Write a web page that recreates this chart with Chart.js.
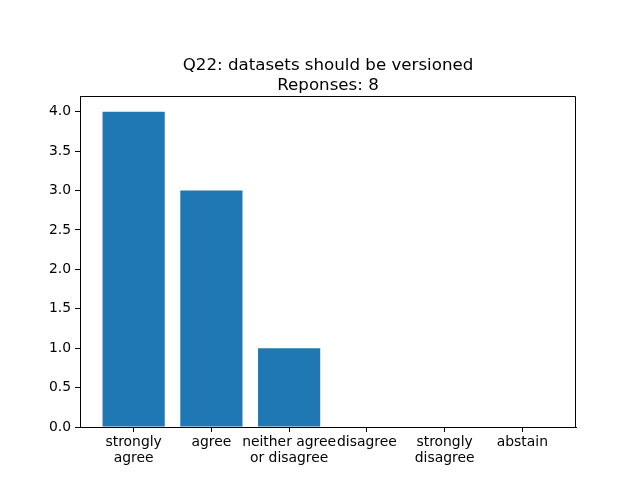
<!DOCTYPE html>
<html><head><meta charset="utf-8">
<script src="https://cdn.jsdelivr.net/npm/chart.js@4"></script>
<style>html,body{margin:0;padding:0;background:#fff}</style>
</head><body>
<canvas id="c" width="640" height="480"></canvas>
<script>
const categories = [["strongly","agree"],["agree"],["neither agree","or disagree"],["disagree"],["strongly","disagree"],["abstain"]];
const counts = [4, 3, 1, 0, 0, 0];
const yTicks = [0, 0.5, 1.0, 1.5, 2.0, 2.5, 3.0, 3.5, 4.0];
const titleLines = ["Q22: datasets should be versioned", "Reponses: 8"];

const FONT = "DejaVu Sans";
const framePlugin = {
  id: 'frame',
  afterDraw(chart) {
    const {ctx, chartArea: a} = chart;
    ctx.save();
    ctx.strokeStyle = '#000';
    ctx.lineWidth = 1;
    ctx.beginPath();
    const L = Math.round(a.left) + 0.5, R = Math.round(a.right) - 0.5, T = Math.round(a.top) + 0.5;
    ctx.moveTo(L, T); ctx.lineTo(R, T); ctx.lineTo(R, Math.round(a.bottom));
    ctx.stroke();
    ctx.fillStyle = '#000';
    ctx.font = `16.67px "${FONT}"`;
    ctx.textAlign = 'center';
    ctx.textBaseline = 'alphabetic';
    const cx = (a.left + a.right) / 2;
    ctx.fillText(titleLines[0], cx, 70);
    ctx.fillText(titleLines[1], cx, 90);
    ctx.restore();
  }
};

new Chart(document.getElementById('c'), {
  type: 'bar',
  data: {
    datasets: [{
      data: counts.map((v, i) => ({x: i, y: v})),
      backgroundColor: '#1f77b4',
      borderColor: '#1f77b4',
      borderWidth: 0,
      inflateAmount: 0,
      barPercentage: 0.8,
      categoryPercentage: 1.0
    }]
  },
  options: {
    responsive: false,
    animation: false,
    devicePixelRatio: 1,
    layout: {padding: {left: 0, right: 64, top: 96, bottom: 0}},
    plugins: {legend: {display: false}, tooltip: {enabled: false}, title: {display: false}},
    scales: {
      x: {
        type: 'linear',
        offset: false,
        min: -0.69, max: 5.69,
        afterBuildTicks(s) { s.ticks = categories.map((c, i) => ({value: i})); },
        afterFit(s) { s.height = 53; },
        grid: {display: true, offset: false, drawOnChartArea: false, drawTicks: true, tickLength: 5, color: '#000', lineWidth: 1},
        border: {display: true, color: '#000'},
        ticks: {
          autoSkip: false, maxRotation: 0, padding: 2,
          color: '#000', font: {family: FONT, size: 13.9, lineHeight: 1.15},
          callback: (v) => categories[Math.round(v)] || ''
        }
      },
      y: {
        type: 'linear',
        min: 0, max: 4.2,
        afterBuildTicks(s) { s.ticks = yTicks.map(v => ({value: v})); },
        afterFit(s) { s.width = 80; },
        grid: {display: true, drawOnChartArea: false, drawTicks: true, tickLength: 5, color: '#000', lineWidth: 1},
        border: {display: true, color: '#000'},
        ticks: {
          padding: 4, color: '#000', font: {family: FONT, size: 13.9},
          callback: (v) => Number(v).toFixed(1)
        }
      }
    }
  },
  plugins: [framePlugin]
});
</script>
</body></html>
